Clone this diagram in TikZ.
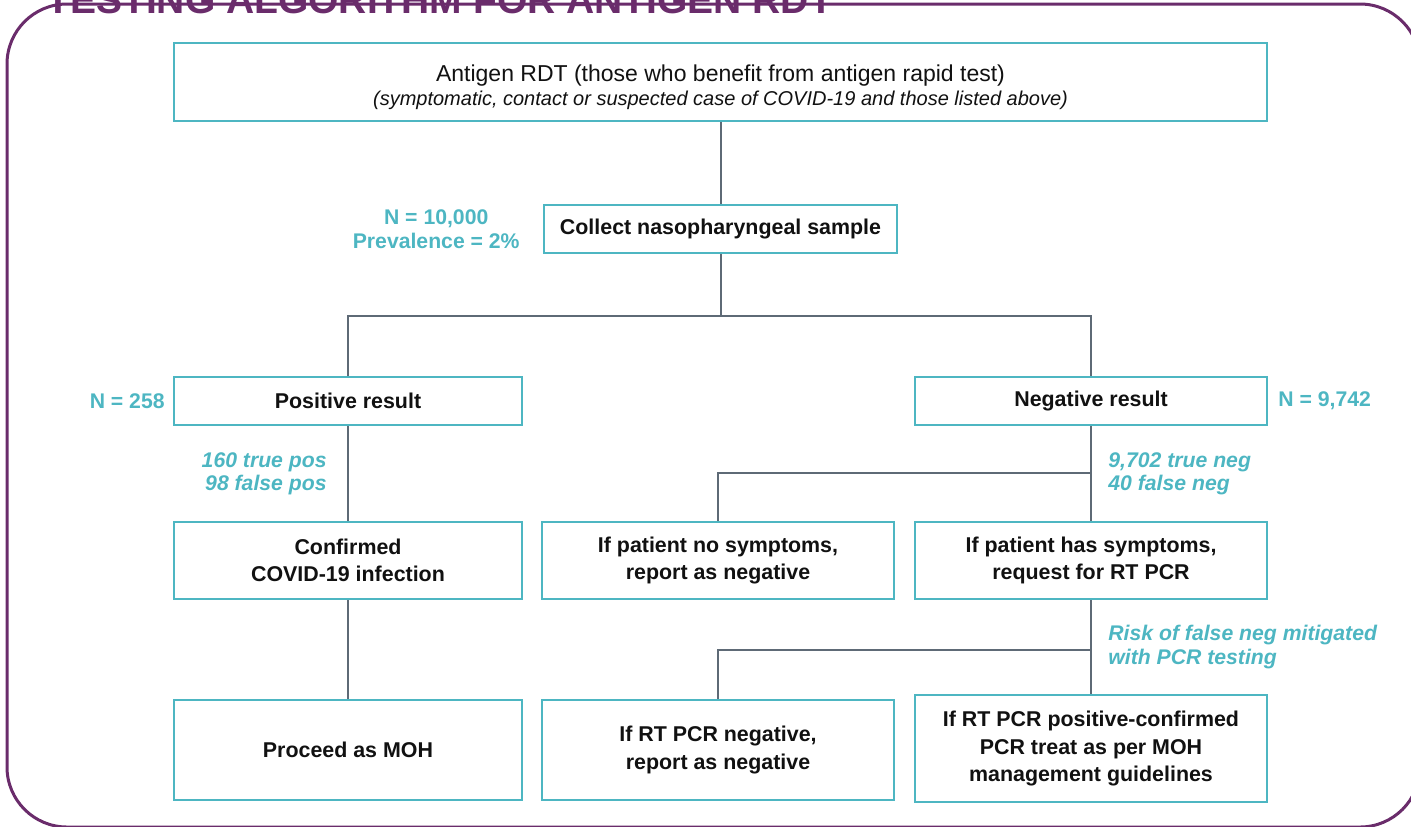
\documentclass[tikz,border=0pt]{standalone}
\usepackage{fontspec}
\setmainfont{Liberation Sans}
\usepackage{tikz}
\usetikzlibrary{positioning,calc}
\definecolor{Plum}{HTML}{6A2C6B}
\definecolor{Teal}{HTML}{4DB6C2}
\definecolor{Slate}{HTML}{5E6A76}
\definecolor{Ink}{HTML}{111111}

\begin{document}
\begin{tikzpicture}[x=0.5pt,y=-0.5pt,
  stepbox/.style={draw=Teal,line width=1pt,fill=white,inner sep=0pt,align=center,text=Ink,font=\fontsize{10.7}{13.8}\selectfont\bfseries},
  note/.style={text=Teal,inner sep=0pt,font=\fontsize{10.6}{12}\selectfont\bfseries},
  slant/.style={text=Teal,inner sep=0pt,font=\fontsize{10.6}{11.7}\selectfont\bfseries\itshape},
  link/.style={draw=Slate,line width=1pt}]
  \useasboundingbox (0,0) rectangle (1411,826);
  \draw[Plum,line width=1.5pt,rounded corners=30pt] (7,4) rectangle (1420,827);
  \node[anchor=base west,inner sep=0pt,text=Plum,font=\fontsize{19.5}{24}\selectfont\bfseries] (title) at (46,13) {TESTING ALGORITHM FOR ANTIGEN RDT};

  % boxes
  \node[stepbox,minimum width=546.5pt,minimum height=39pt,font=\fontsize{11.5}{12}\selectfont] (rdt) at (720.5,82) {\rule{0pt}{14pt}Antigen RDT (those who benefit from antigen rapid test)\\{\fontsize{10}{12}\selectfont\itshape (symptomatic, contact or suspected case of COVID-19 and those listed above)}};
  \node[stepbox,minimum width=176.5pt,minimum height=24pt] (sample) at (720.5,229) {Collect nasopharyngeal sample};
  \node[stepbox,minimum width=174pt,minimum height=24pt] (pos) at (348,401) {Positive result};
  \node[stepbox,minimum width=176pt,minimum height=24pt] (neg) at (1091,401) {Negative result};
  \node[stepbox,minimum width=174pt,minimum height=38.5pt] (conf) at (348,560.5) {Confirmed\\COVID-19 infection};
  \node[stepbox,minimum width=176pt,minimum height=38.5pt] (nosym) at (718,560.5) {If patient no symptoms,\\report as negative};
  \node[stepbox,minimum width=176pt,minimum height=38.5pt] (hassym) at (1091,560.5) {If patient has symptoms,\\request for RT PCR};
  \node[stepbox,minimum width=174pt,minimum height=50pt] (moh) at (348,750) {Proceed as MOH};
  \node[stepbox,minimum width=176pt,minimum height=50pt] (pcrneg) at (718,750) {If RT PCR negative,\\report as negative};
  \node[stepbox,minimum width=176pt,minimum height=53.5pt] (pcrpos) at (1091,748.5) {If RT PCR positive-confirmed\\PCR treat as per MOH\\management guidelines};

  % figures beside the boxes
  \node[note,align=center,anchor=east] (prev) at (520,229) {N = 10,000\\Prevalence = 2\%};
  \node[note,anchor=east] (npos) at (165,401) {N = 258};
  \node[note,anchor=west] (nneg) at (1278,401) {N = 9,742};
  \node[slant,align=right,anchor=east] (tpos) at (327,474) {160 true pos\\98 false pos};
  \node[slant,align=left,anchor=west] (tneg) at (1108,474) {9,702 true neg\\40 false neg};
  \node[slant,align=left,anchor=west] (risk) at (1108,647) {Risk of false neg mitigated\\with PCR testing};

  % connectors
  \coordinate (split1) at (720.5,316);
  \coordinate (split2) at (1091,473);
  \coordinate (split3) at (1091,650);
  \draw[link] (rdt) -- (sample);
  \draw[link] (sample) -- (split1);
  \draw[link] (pos) |- (split1) -| (neg);
  \draw[link] (pos) -- (conf);
  \draw[link] (conf) -- (moh);
  \draw[link] (neg) -- (hassym);
  \draw[link] (split2) -| (nosym);
  \draw[link] (hassym) -- (pcrpos);
  \draw[link] (split3) -| (pcrneg);
\end{tikzpicture}
\end{document}
